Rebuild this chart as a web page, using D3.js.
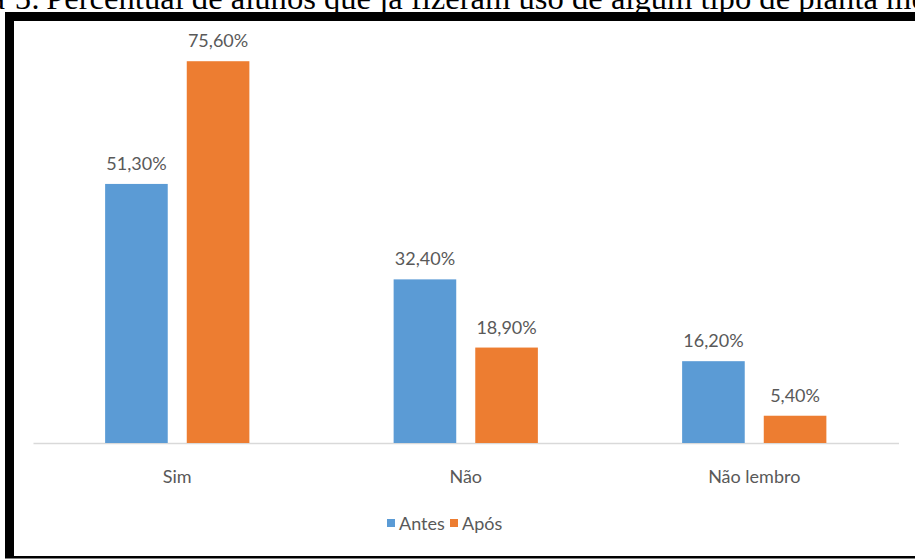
<!DOCTYPE html>
<html>
<head>
<meta charset="utf-8">
<script src="https://cdn.jsdelivr.net/npm/d3@7"></script>
<style>
  html, body { margin: 0; padding: 0; background: #fff; }
  svg { display: block; }
</style>
</head>
<body>
<svg id="chart" width="915" height="559"></svg>
<script>
const categories = ["Sim", "Não", "Não lembro"];
const seriesNames = ["Antes", "Após"];
const antes = [51.3, 32.4, 16.2];
const apos = [75.6, 18.9, 5.4];
const colors = ["#5B9BD5", "#ED7D31"];
const titleWord = "Figura";
const titleNum = "5:";
const titleBody = "Percentual de alunos que já fizeram uso de algum tipo de planta medicinal";

const svg = d3.select("#chart");
const W = 915, H = 559;
svg.append("rect").attr("width", W).attr("height", H).attr("fill", "#fff");

// Title (clipped at the top edge, as in the reference)
const titleFont = "'Liberation Serif', 'Times New Roman', serif";
function measure(str, size) {
  const t = svg.append("text").attr("font-family", titleFont).attr("font-size", size).text(str);
  const w = t.node().getComputedTextLength();
  t.remove();
  return w;
}
const span = measure("Percentual de alunos que já fizeram uso de algum tipo de planta", 30);
const titleSize = 30 * 832 / span;
const wordW = measure(titleWord, titleSize);
const numW = measure(titleNum, titleSize);
const title = svg.append("text")
  .attr("y", 9)
  .attr("font-family", titleFont)
  .attr("font-size", titleSize)
  .attr("fill", "#000");
title.append("tspan").attr("x", 5 - wordW).text(titleWord);
title.append("tspan").attr("x", 32 - numW).text(" " + titleNum).attr("dx", -measure(" ", titleSize));
title.append("tspan").attr("x", 38).text(" " + titleBody).attr("dx", -measure(" ", titleSize));

// Frame
svg.append("rect").attr("x", 5).attr("y", 12).attr("width", W - 5).attr("height", 9).attr("fill", "#000");
svg.append("rect").attr("x", 5).attr("y", 12).attr("width", 9).attr("height", H - 13).attr("fill", "#000");
svg.append("rect").attr("x", 5).attr("y", 556).attr("width", W - 5).attr("height", 2.5).attr("fill", "#000");

const font = "Lato, 'Open Sans', sans-serif";
const txtColor = "#595959";

const x0 = d3.scaleBand().domain(categories).range([33, 898.5]).paddingInner(0.5).paddingOuter(0.25);
const x1 = d3.scaleBand().domain(seriesNames).range([0, x0.bandwidth()]).paddingInner(0.233);
const y = d3.scaleLinear().domain([0, 80]).range([443, 39]);

const data = categories.map((c, i) => ({ cat: c, vals: [antes[i], apos[i]] }));

// Baseline axis
const axis = d3.axisBottom(x0).tickSize(0).tickPadding(0);
const gAxis = svg.append("g").attr("transform", `translate(0,${y(0)})`).call(axis);
gAxis.select(".domain").attr("stroke", "#D9D9D9").attr("stroke-width", 1.5);
gAxis.selectAll(".tick text")
  .attr("font-family", font).attr("font-size", 18).attr("fill", txtColor)
  .attr("dy", 0).attr("y", 40);

const groups = svg.append("g").selectAll("g").data(data).join("g")
  .attr("transform", d => `translate(${x0(d.cat)},0)`);

groups.selectAll("rect").data(d => d.vals.map((v, j) => ({ s: seriesNames[j], v, j })))
  .join("rect")
  .attr("x", d => x1(d.s))
  .attr("width", x1.bandwidth())
  .attr("y", d => y(d.v))
  .attr("height", d => y(0) - y(d.v))
  .attr("fill", d => colors[d.j]);

const fmt = v => v.toFixed(2).replace(".", ",") + "%";
groups.selectAll("text.val").data(d => d.vals.map((v, j) => ({ s: seriesNames[j], v, j })))
  .join("text").attr("class", "val")
  .attr("x", d => x1(d.s) + x1.bandwidth() / 2)
  .attr("y", d => y(d.v) - 14)
  .attr("text-anchor", "middle")
  .attr("font-family", font).attr("font-size", 18).attr("fill", txtColor)
  .text(d => fmt(d.v));

// Legend
const legend = svg.append("g").attr("transform", "translate(387,524)");
const items = [{ n: seriesNames[0], c: colors[0], x: 0 }, { n: seriesNames[1], c: colors[1], x: 63 }];
items.forEach(it => {
  legend.append("rect").attr("x", it.x).attr("y", -5).attr("width", 8).attr("height", 8).attr("fill", it.c);
  legend.append("text").attr("x", it.x + 12).attr("y", 6)
    .attr("font-family", font).attr("font-size", 18).attr("fill", txtColor).text(it.n);
});
</script>
</body>
</html>
